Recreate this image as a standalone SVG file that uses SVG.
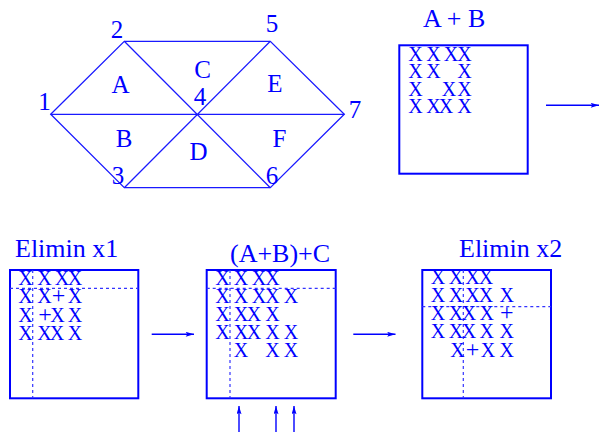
<svg xmlns="http://www.w3.org/2000/svg" width="600" height="432" viewBox="0 0 600 432">
<style>
  .ln{stroke:#1a1aff;stroke-width:1.3;fill:none}
  .box{stroke:#0000ff;stroke-width:2;fill:#ffffff}
  .dash{stroke:#3333ff;stroke-width:1.2;stroke-dasharray:3 3;fill:none}
  .arr{stroke:#0000ff;stroke-width:1.4;fill:none}
  .t{font-family:"Liberation Serif","Times New Roman",serif;fill:#0000ff}
  .dig{font-size:25px;text-anchor:middle}
  .let{font-size:25px;text-anchor:middle}
  .ttl{font-size:26px}
  .x{font-size:20px;text-anchor:middle}
  .p{font-size:24px}
</style>
<defs>
  <marker id="ah" viewBox="0 0 10 6" refX="10" refY="3" markerWidth="9" markerHeight="5" markerUnits="userSpaceOnUse" orient="auto">
    <path d="M0,0 L10,3 L0,6 L2,3 Z" fill="#0000ff"/>
  </marker>
</defs>
<rect width="600" height="432" fill="#ffffff"/>

<g id="mesh">
  <path class="ln" d="M50.7,114.3 L124.3,41.3 L270.3,41.3 L344.3,114.3 L270.3,187.7 L124.3,187.7 Z"/>
  <path class="ln" d="M50.7,114.3 L344.3,114.3 M124.3,41.3 L270.3,187.7 M270.3,41.3 L124.3,187.7"/>
  <g class="t dig">
    <text x="44.5" y="110">1</text>
    <text x="117" y="38">2</text>
    <text x="118" y="184">3</text>
    <text x="200" y="105">4</text>
    <text x="272" y="32">5</text>
    <text x="272" y="184">6</text>
    <text x="355" y="118">7</text>
  </g>
  <g class="t let">
    <text x="120.5" y="92.5">A</text>
    <text x="124" y="147">B</text>
    <text x="202.5" y="78">C</text>
    <text x="198.5" y="160">D</text>
    <text x="275" y="92">E</text>
    <text x="279.5" y="147">F</text>
  </g>
</g>

<g id="box-AB">
  <text class="t ttl" x="423" y="27">A + B</text>
  <rect class="box" x="399.3" y="45.3" width="128.4" height="128.4"/>
  <g class="t x">
    <text xml:space="preserve" x="415.5 424.5 433.5 442 451 464.5" y="60.5">X X XX</text>
    <text xml:space="preserve" x="415.5 424.5 433.5 442 451 464.5" y="78">X X  X</text>
    <text xml:space="preserve" x="415.5 424 432 449 457 464.5" y="95.5">X  X X</text>
    <text xml:space="preserve" x="415.5 424.5 433.5 446 455 464.5" y="113">X XX X</text>
  </g>
</g>

<g id="box-x1">
  <text class="t ttl" x="15" y="256.5">Elimin x1</text>
  <rect class="box" x="10" y="270" width="128.3" height="128.3"/>
  <path class="dash" d="M10,288.3 H138.3 M32.7,270 V398.3"/>
  <g class="t x">
    <text x="25.5 35 44.5 53 62 75" y="285">X X XX</text>
    <text x="25.5 35 44.5 58.5 75" y="303">X X<tspan class="p">+</tspan>X</text>
    <text x="25.5 35 45 57.5 66 75" y="321.5">X <tspan class="p">+</tspan>X X</text>
    <text x="25.5 35 44.5 57 66 75" y="340">X XX X</text>
  </g>
</g>

<g id="box-ABC">
  <text class="t ttl" x="230" y="262">(A+B)+C</text>
  <rect class="box" x="206.7" y="270" width="129" height="128.3"/>
  <path class="dash" d="M206.7,288.3 H335.7 M230,270 V398.3"/>
  <g class="t x">
    <text x="222.5 232 241 250 259 272.5" y="284.5">X X XX</text>
    <text x="222.5 232 241 250 259 272.5 282 291" y="302.5">X X XX X</text>
    <text x="222.5 232 241 254 263 272.5" y="321">X XX X</text>
    <text x="222.5 232 241 254 263 272.5 282 291" y="339">X XX X X</text>
    <text xml:space="preserve" x="241 256 264 272.5 282 291" y="357">X  X X</text>
  </g>
</g>

<g id="box-x2">
  <text class="t ttl" x="459" y="257">Elimin x2</text>
  <rect class="box" x="422.3" y="270" width="128.7" height="128.3"/>
  <path class="dash" d="M422.3,306.7 H551 M463.3,270 V398.3"/>
  <g class="t x">
    <text x="438 447 456 464 472.5 486" y="283.5">X X XX</text>
    <text x="438 447 456 464 472.5 486 496 506.7" y="301.7">X X XX X</text>
    <text x="438 447 456 469 478 486.7 496 506.7" y="320">X XX X <tspan class="p">+</tspan></text>
    <text x="438 447 456 469 478 486.7 496 506.7" y="338">X XX X X</text>
    <text x="457.5 472.5 488 497 506.7" y="356.7">X<tspan class="p">+</tspan>X X</text>
  </g>
</g>

<g id="connectors">
  <line class="arr" x1="546" y1="105.3" x2="599" y2="105.3" marker-end="url(#ah)"/>
  <line class="arr" x1="151.7" y1="334.3" x2="194" y2="334.3" marker-end="url(#ah)"/>
  <line class="arr" x1="353.3" y1="334.3" x2="395.5" y2="334.3" marker-end="url(#ah)"/>
  <line class="arr" x1="239" y1="432" x2="239" y2="406" marker-end="url(#ah)"/>
  <line class="arr" x1="276" y1="432" x2="276" y2="406" marker-end="url(#ah)"/>
  <line class="arr" x1="294" y1="432" x2="294" y2="406" marker-end="url(#ah)"/>
</g>
</svg>
